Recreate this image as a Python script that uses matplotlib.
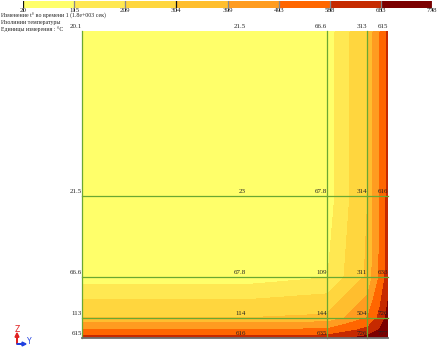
import numpy as np
import matplotlib
matplotlib.use("Agg")
import matplotlib.pyplot as plt
from matplotlib.colors import ListedColormap, BoundaryNorm

# colour scale (°C)
levels = [20, 115, 209, 304, 399, 493, 588, 683, 778]
band_colors = ["#FFFF6A", "#FFE852", "#FFD63E", "#FFBE2E",
               "#FF9C20", "#FF6600", "#C62A00", "#7C0000"]

# field nodes (Y from left face, Z from bottom face)
y_nodes = [0, 164, 245, 253, 268, 286, 291, 298, 304, 306]
z_nodes = [0, 2, 8, 15, 20, 38, 53, 61, 142, 306]
temp = [
    [615, 616, 633, 650, 680, 726, 736, 750, 768, 777],
    [588, 588, 605, 622, 655, 690, 712, 735, 755, 768],
    [493, 494, 510, 529, 570, 615, 655, 690, 735, 750],
    [399, 400, 422, 446, 493, 550, 600, 655, 712, 736],
    [304, 305, 320, 363, 422, 500, 550, 615, 690, 726],
    [209, 210, 244, 280, 350, 422, 493, 570, 655, 680],
    [115, 116, 156, 198, 280, 363, 446, 529, 622, 650],
    [66.6, 68, 110, 156, 244, 320, 422, 510, 605, 633],
    [21.5, 23, 68, 116, 210, 305, 400, 494, 588, 616],
    [20.1, 21.5, 66.6, 115, 209, 304, 399, 493, 588, 615],
]

# labelled nodes
lab_y = [0, 164, 245, 285, 306]
lab_z = [306, 142, 61, 20, 0]
lab_vals = [
    ["20.1", "21.5", "66.6", "313", "615"],
    ["21.5", "23", "67.8", "314", "616"],
    ["66.6", "67.8", "109", "311", "633"],
    ["113", "114", "144", "504", "726"],
    ["615", "616", "635", "726", "777"],
]
grid_y = [0, 245, 285]
grid_z = [20, 61, 142]

W, H = 440, 353
fig = plt.figure(figsize=(W / 100, H / 100), dpi=100)
serif = "Liberation Serif"

cmap = ListedColormap(band_colors)
norm = BoundaryNorm(levels, cmap.N)

ax = fig.add_axes([82 / W, 15 / H, 306 / W, 307 / H])
cs = ax.contourf(y_nodes, z_nodes, np.array(temp), levels=levels, cmap=cmap, norm=norm)
ax.set_xlim(0, 306)
ax.set_ylim(0, 306)
ax.axis("off")

green = "#6AA832"
for gy in grid_y:
    ax.plot([gy, gy], [0, 306], color=green, lw=0.9, clip_on=False)
for gz in grid_z:
    ax.plot([0, 306], [gz, gz], color=green, lw=0.9, clip_on=False)
ax.plot([0, 306], [0, 0], color="#707070", lw=1.3, clip_on=False)

for i, z in enumerate(lab_z):
    for j, y in enumerate(lab_y):
        ax.text(y, z + 1.5, lab_vals[i][j], ha="right", va="bottom",
                fontsize=5, family=serif, color="#222222")

# colour bar on top
cax = fig.add_axes([23 / W, (H - 7.5) / H, 409 / W, 6.5 / H])
cb = fig.colorbar(cs, cax=cax, orientation="horizontal")
cb.outline.set_visible(False)
cb.set_ticks([])
for v in levels:
    c = "#111111" if v in (20, 304) else "#888888"
    cax.axvline(v, color=c, lw=0.9)
    cax.text(v, -0.15, str(v), transform=cax.get_xaxis_transform(),
             ha="center", va="top", fontsize=5.0, family=serif, color="#222222")

# header text
header = ["Изменение t° во времени 1 (1.8e+003 сек)",
          "Изолинии температуры",
          "Единицы измерения : °C"]
for k, line in enumerate(header):
    fig.text(1 / W, 1 - (16 + 6.5 * k) / H, line, fontsize=4.2, family=serif,
             va="center", ha="left", color="#222222")

# axis triad
fig.patches.append(matplotlib.patches.FancyArrow(
    17 / W, 1 - 344 / H, 0, 11 / H, width=0.0012, head_width=0.009,
    head_length=0.012, color="#E02020", transform=fig.transFigure, length_includes_head=True))
fig.patches.append(matplotlib.patches.FancyArrow(
    17 / W, 1 - 344 / H, 9 / W, 0, width=0.0015, head_width=0.011,
    head_length=0.009, color="#2040E0", transform=fig.transFigure, length_includes_head=True))
fig.text(17 / W, 1 - 329 / H, "Z", color="#E02020", fontsize=5.5, ha="center", va="center")
fig.text(29 / W, 1 - 342 / H, "Y", color="#2040E0", fontsize=5.5, ha="center", va="center")

fig.savefig("out.png", dpi=100)
